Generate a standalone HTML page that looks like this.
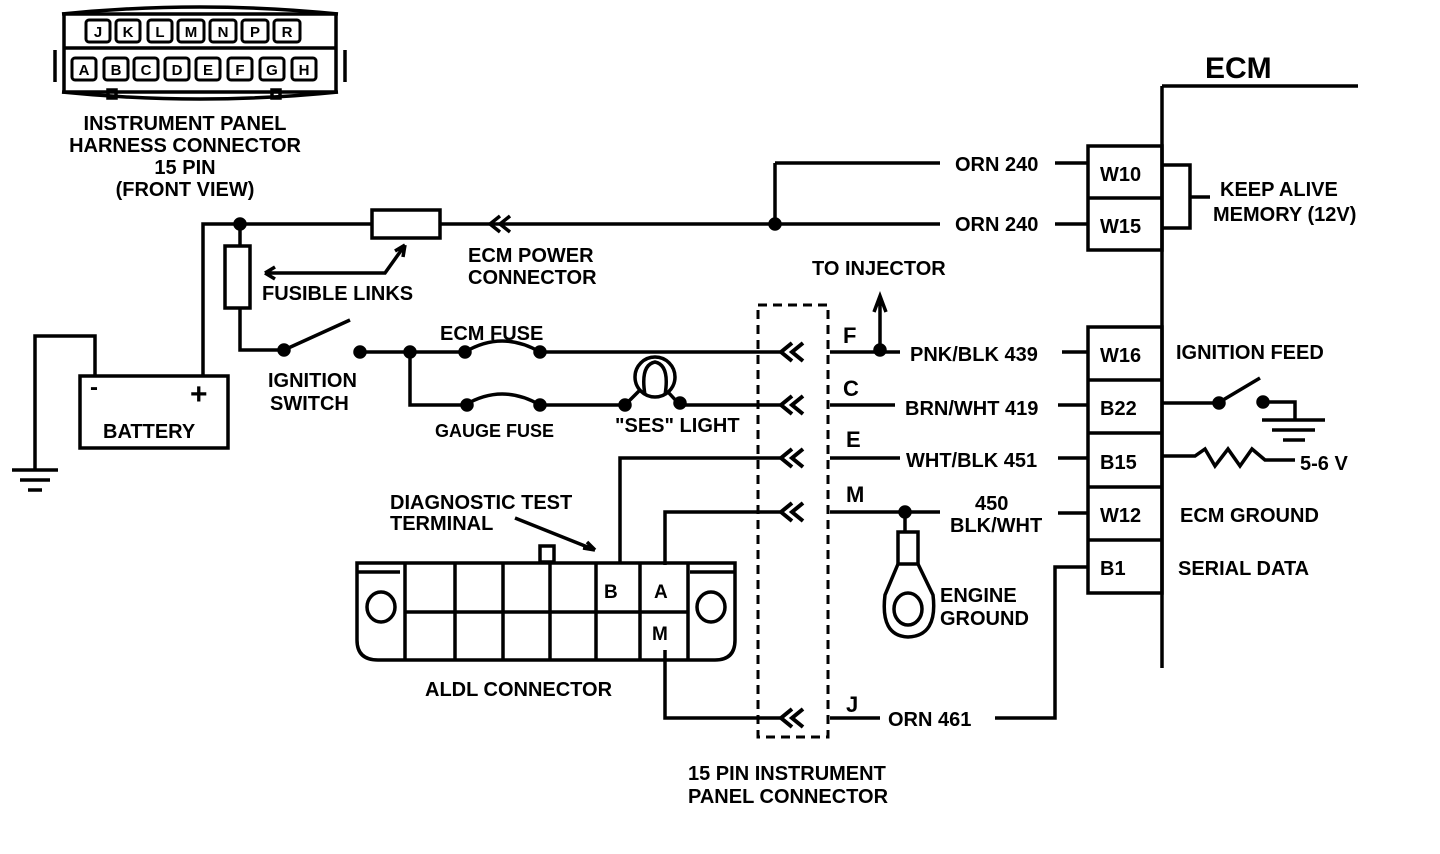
<!DOCTYPE html>
<html><head><style>
html,body{margin:0;padding:0;background:#fff;width:1440px;height:854px;overflow:hidden}
svg text{font-family:"Liberation Sans",sans-serif;font-weight:bold;fill:#000}
</style></head><body>
<svg width="1440" height="854" viewBox="0 0 1440 854" xmlns="http://www.w3.org/2000/svg" fill="none" stroke="#000" stroke-width="3.5">
<!-- top-left connector -->
<path d="M62 14 Q200 0 338 14" />
<path d="M62 92 Q200 106 338 92" />
<rect x="64" y="14" width="272" height="78" />
<line x1="64" y1="48" x2="336" y2="48"/>
<line x1="55" y1="50" x2="55" y2="82"/><line x1="345" y1="50" x2="345" y2="82"/>
<rect x="108" y="90" width="8" height="8"/><rect x="272" y="90" width="8" height="8"/>
<g stroke-width="3">
<rect x="86" y="20" width="24" height="22" rx="3"/><rect x="116" y="20" width="24" height="22" rx="3"/><rect x="148" y="20" width="24" height="22" rx="3"/><rect x="178" y="20" width="26" height="22" rx="3"/><rect x="210" y="20" width="26" height="22" rx="3"/><rect x="242" y="20" width="26" height="22" rx="3"/><rect x="274" y="20" width="26" height="22" rx="3"/>
<rect x="72" y="58" width="24" height="22" rx="3"/><rect x="104" y="58" width="24" height="22" rx="3"/><rect x="134" y="58" width="24" height="22" rx="3"/><rect x="165" y="58" width="24" height="22" rx="3"/><rect x="196" y="58" width="24" height="22" rx="3"/><rect x="228" y="58" width="24" height="22" rx="3"/><rect x="260" y="58" width="24" height="22" rx="3"/><rect x="292" y="58" width="24" height="22" rx="3"/>
</g>
<g stroke="none" font-size="15" text-anchor="middle">
<text x="98" y="37">J</text><text x="128" y="37">K</text><text x="160" y="37">L</text><text x="191" y="37">M</text><text x="223" y="37">N</text><text x="255" y="37">P</text><text x="287" y="37">R</text>
<text x="84" y="75">A</text><text x="116" y="75">B</text><text x="146" y="75">C</text><text x="177" y="75">D</text><text x="208" y="75">E</text><text x="240" y="75">F</text><text x="272" y="75">G</text><text x="304" y="75">H</text>
</g>
<g stroke="none" font-size="20" text-anchor="middle">
<text x="185" y="130">INSTRUMENT PANEL</text><text x="185" y="152">HARNESS CONNECTOR</text><text x="185" y="174">15 PIN</text><text x="185" y="196">(FRONT VIEW)</text>
</g>
<!-- ECM -->
<line x1="1162" y1="86" x2="1358" y2="86"/>
<line x1="1162" y1="86" x2="1162" y2="668"/>
<text x="1205" y="78" font-size="30" stroke="none">ECM</text>
<rect x="1088" y="146" width="74" height="104"/><line x1="1088" y1="198" x2="1162" y2="198"/>
<rect x="1088" y="327" width="74" height="266"/>
<line x1="1088" y1="380" x2="1162" y2="380"/><line x1="1088" y1="433" x2="1162" y2="433"/><line x1="1088" y1="487" x2="1162" y2="487"/><line x1="1088" y1="540" x2="1162" y2="540"/>
<g stroke="none" font-size="20">
<text x="1100" y="181">W10</text><text x="1100" y="233">W15</text><text x="1100" y="362">W16</text><text x="1100" y="415">B22</text><text x="1100" y="469">B15</text><text x="1100" y="522">W12</text><text x="1100" y="575">B1</text>
<text x="1220" y="196">KEEP ALIVE</text><text x="1213" y="221">MEMORY (12V)</text>
<text x="1176" y="359">IGNITION FEED</text><text x="1180" y="522">ECM GROUND</text><text x="1178" y="575">SERIAL DATA</text>
<text x="1300" y="470">5-6 V</text>
</g>
<path d="M1162 165 H1190 V228 H1162 M1190 197 H1210"/>
<!-- B22 switch & ground -->
<path d="M1162 403 H1218 L1260 378"/>
<circle cx="1219" cy="403" r="5" fill="#000"/><circle cx="1263" cy="402" r="5" fill="#000"/>
<path d="M1263 402 H1295 V420 M1262 420 H1325 M1272 430 H1315 M1283 440 H1305"/>
<path d="M1162 456 H1195 L1205 449 L1215 466 L1228 449 L1240 466 L1252 449 L1265 460 H1295"/>
<!-- ORN 240 -->
<path d="M775 163 H940 M1055 163 H1088"/>
<path d="M775 163 V224"/><circle cx="775" cy="224" r="5" fill="#000"/>
<path d="M440 224 H940 M1055 224 H1088"/>
<g stroke="none" font-size="20">
<text x="955" y="171">ORN 240</text><text x="955" y="231">ORN 240</text>
<text x="468" y="262">ECM POWER</text><text x="468" y="284">CONNECTOR</text>
<text x="262" y="300">FUSIBLE LINKS</text>
<text x="812" y="275">TO INJECTOR</text>
<text x="440" y="340">ECM FUSE</text>
<text x="268" y="387">IGNITION</text><text x="270" y="410">SWITCH</text>
<text x="435" y="437" font-size="18">GAUGE  FUSE</text>
<text x="615" y="432">"SES"  LIGHT</text>
<text x="103" y="438">BATTERY</text>
<text x="910" y="361">PNK/BLK 439</text>
<text x="905" y="415">BRN/WHT 419</text>
<text x="906" y="467">WHT/BLK 451</text>
<text x="975" y="510">450</text><text x="950" y="532">BLK/WHT</text>
<text x="888" y="726">ORN 461</text>
<text x="390" y="509">DIAGNOSTIC TEST</text><text x="390" y="530">TERMINAL</text>
<text x="940" y="602">ENGINE</text><text x="940" y="625">GROUND</text>
<text x="425" y="696">ALDL CONNECTOR</text>
<text x="688" y="780">15 PIN INSTRUMENT</text><text x="688" y="803">PANEL  CONNECTOR</text>
<text x="843" y="343" font-size="22">F</text><text x="843" y="396" font-size="22">C</text><text x="846" y="447" font-size="22">E</text><text x="846" y="502" font-size="22">M</text><text x="846" y="712" font-size="22">J</text>
<text x="90" y="395" font-size="24">-</text><text x="190" y="404" font-size="30">+</text>
</g>
<!-- chevron at ECM power -->
<path d="M500 216 L490 224 L500 232 M510 216 L500 224 L510 232"/>
<!-- fuse box -->
<rect x="372" y="210" width="68" height="28"/>
<path d="M203 376 V224 H372"/><circle cx="240" cy="224" r="5" fill="#000"/>
<rect x="225" y="246" width="25" height="62"/>
<path d="M240 224 V246 M240 308 V350 H284 L350 320"/>
<circle cx="284" cy="350" r="5" fill="#000"/><circle cx="360" cy="352" r="5" fill="#000"/>
<path d="M265 273 L385 273 L405 245 M265 273 l10 -6 M265 273 l10 6 M405 245 l-2 12 M405 245 l-10 6"/>
<!-- battery -->
<rect x="80" y="376" width="148" height="72"/>
<path d="M95 376 V336 H35 V470 M12 470 H58 M20 480 H50 M28 490 H42"/>
<!-- ECM fuse wire -->
<path d="M360 352 H465 M540 352 H780 M830 352 H900 M1062 352 H1088"/>
<path d="M465 352 Q502 330 540 352"/><circle cx="465" cy="352" r="5" fill="#000"/><circle cx="540" cy="352" r="5" fill="#000"/>
<circle cx="410" cy="352" r="5" fill="#000"/>
<path d="M880 352 V300 M874 312 L880 296 L886 312"/><circle cx="880" cy="350" r="5" fill="#000"/>
<!-- gauge fuse wire -->
<path d="M410 352 V405 H465 M540 405 H625 M680 405 H780 M830 405 H895 M1058 405 H1088"/>
<path d="M465 405 Q502 383 540 405"/><circle cx="467" cy="405" r="5" fill="#000"/><circle cx="540" cy="405" r="5" fill="#000"/>
<circle cx="655" cy="377" r="20"/><path d="M645 395 Q640 365 655 362 Q670 365 665 395"/>
<path d="M625 405 L640 390 M680 405 L668 392"/><circle cx="625" cy="405" r="5" fill="#000"/><circle cx="680" cy="403" r="5" fill="#000"/>
<!-- E wire -->
<path d="M620 562 V458 H780 M830 458 H900 M1058 458 H1088"/>
<!-- M wire -->
<path d="M665 565 V512 H780 M830 512 H940 M1058 513 H1088"/>
<circle cx="905" cy="512" r="5" fill="#000"/>
<path d="M905 512 V532"/><rect x="898" y="532" width="20" height="32"/>
<path d="M898 564 L885 595 Q880 636 908 637 Q938 636 933 595 L918 564"/>
<ellipse cx="908" cy="609" rx="14" ry="16"/>
<!-- J wire -->
<path d="M665 650 V718 H780 M830 718 H880 M995 718 H1055 V567 H1088"/>
<!-- dashed connector -->
<rect x="758" y="305" width="70" height="432" stroke-dasharray="9 6" stroke-width="3"/>
<g stroke-width="4">
<path d="M792 343 L781 352 L792 361 M803 343 L792 352 L803 361"/>
<path d="M792 396 L781 405 L792 414 M803 396 L792 405 L803 414"/>
<path d="M792 449 L781 458 L792 467 M803 449 L792 458 L803 467"/>
<path d="M792 503 L781 512 L792 521 M803 503 L792 512 L803 521"/>
<path d="M792 709 L781 718 L792 727 M803 709 L792 718 L803 727"/>
</g>
<!-- ALDL -->
<path d="M515 518 L595 550 M595 550 l-12 -2 M595 550 l-8 -8"/>
<rect x="540" y="546" width="14" height="16"/>
<path d="M357 563 H735 V640 Q735 660 715 660 H378 Q357 660 357 640 Z"/>
<path d="M357 572 H400 M690 572 H735"/>
<line x1="405" y1="563" x2="405" y2="660"/><line x1="455" y1="563" x2="455" y2="660"/><line x1="503" y1="563" x2="503" y2="660"/><line x1="550" y1="563" x2="550" y2="660"/><line x1="596" y1="563" x2="596" y2="660"/><line x1="640" y1="563" x2="640" y2="660"/><line x1="688" y1="563" x2="688" y2="660"/>
<line x1="405" y1="612" x2="688" y2="612"/>
<ellipse cx="381" cy="607" rx="14" ry="15"/><ellipse cx="711" cy="607" rx="14" ry="15"/>
<g stroke="none" font-size="19"><text x="604" y="598">B</text><text x="654" y="598">A</text><text x="652" y="640">M</text></g>
</svg>
</body></html>
